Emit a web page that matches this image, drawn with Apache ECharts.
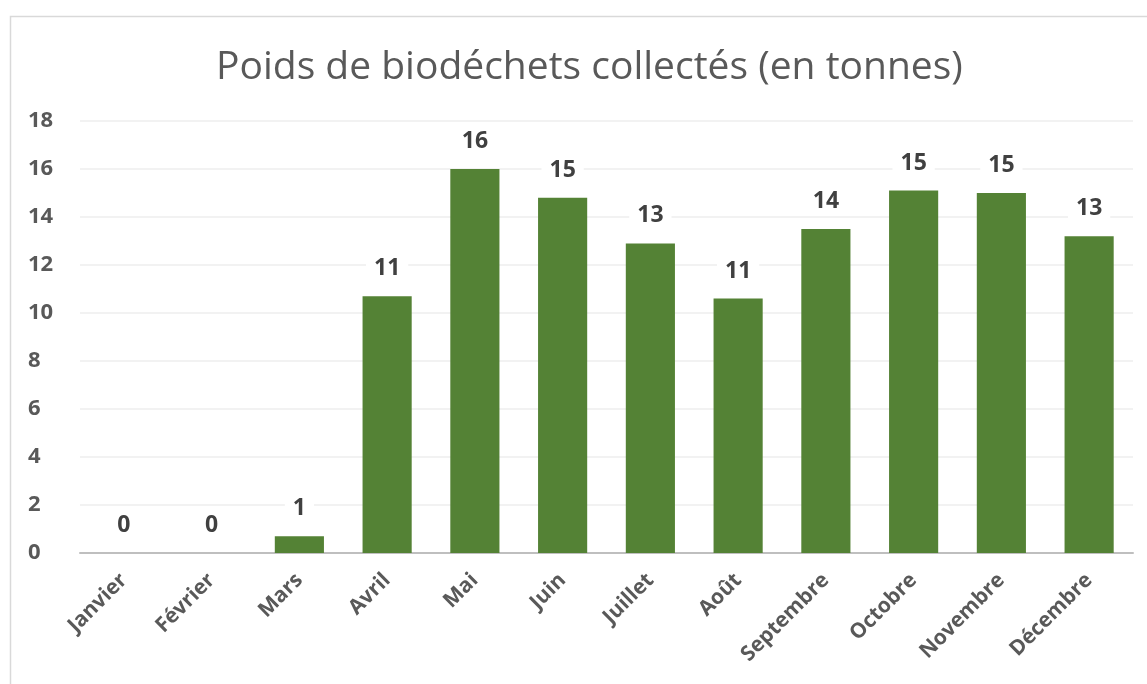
<!DOCTYPE html>
<html>
<head>
<meta charset="utf-8">
<script src="https://cdn.jsdelivr.net/npm/echarts@6/dist/echarts.min.js"></script>
<style>
  html, body { margin: 0; padding: 0; background: #fff; }
  #chart { width: 1147px; height: 684px; }
</style>
</head>
<body>
<div id="chart"></div>
<script>
// données
const months = ["Janvier", "Février", "Mars", "Avril", "Mai", "Juin", "Juillet", "Août", "Septembre", "Octobre", "Novembre", "Décembre"];
const tonnes = [0, 0, 0.7, 10.7, 16.0, 14.8, 12.9, 10.6, 13.5, 15.1, 15.0, 13.2];
const yTicks = [0, 2, 4, 6, 8, 10, 12, 14, 16, 18];

const font = "'Open Sans', 'Noto Sans', sans-serif";
const myChart = echarts.init(document.getElementById("chart"), null, { renderer: "canvas" });

const option = {
  backgroundColor: "#fff",
  animation: false,
  title: {
    text: "Poids de biodéchets collectés (en tonnes)",
    left: 211,
    top: 43,
    textStyle: {
      fontFamily: font,
      fontSize: 39,
      fontWeight: "normal",
      color: "#595959"
    }
  },
  graphic: [
    {
      type: "rect",
      shape: { x: 10.5, y: 16.5, width: 1200, height: 800 },
      style: { fill: "none", stroke: "#d9d9d9", lineWidth: 1.5 },
      silent: true
    }
  ],
  grid: {
    left: 80,
    right: 14,
    top: 121,
    bottom: 131
  },
  xAxis: {
    type: "category",
    data: months,
    axisLine: { show: true, lineStyle: { color: "#bfbfbf", width: 2 } },
    axisTick: { show: false },
    axisLabel: {
      rotate: 45,
      interval: 0,
      margin: 24,
      fontFamily: font,
      fontSize: 21,
      fontWeight: "bold",
      color: "#595959"
    }
  },
  yAxis: {
    type: "value",
    min: yTicks[0],
    max: yTicks[yTicks.length - 1],
    interval: 2,
    axisLine: { show: false },
    axisTick: { show: false },
    axisLabel: {
      margin: 52,
      align: "left",
      fontFamily: font,
      fontSize: 22,
      fontWeight: "bold",
      color: "#595959"
    },
    splitLine: {
      lineStyle: { color: "#eeeeee", width: 1.5 }
    }
  },
  series: [
    {
      type: "bar",
      data: tonnes,
      barWidth: "56%",
      itemStyle: { color: "#548235" },
      label: {
        show: true,
        position: "top",
        distance: 14,
        formatter: p => Math.round(p.value),
        fontFamily: font,
        fontSize: 23,
        fontWeight: "bold",
        color: "#404040",
        backgroundColor: "#fff",
        padding: [2, 8]
      }
    }
  ]
};
myChart.setOption(option);
</script>
</body>
</html>
